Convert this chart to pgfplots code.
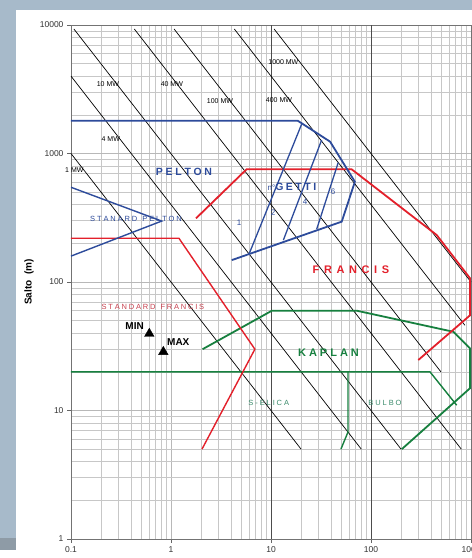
\documentclass[border=0pt]{standalone}
\usepackage{pgfplots}
\pgfplotsset{compat=1.18}
\usepackage{fontspec}
\setmainfont{Liberation Sans}
\definecolor{bgblue}{HTML}{A7BACA}
\definecolor{bggray}{HTML}{8E9BA6}
\definecolor{pblue}{HTML}{2D4B9B}
\definecolor{fred}{HTML}{E3202B}
\definecolor{kgreen}{HTML}{17803F}
\definecolor{lgreen}{HTML}{3C8C6C}
\definecolor{lred}{HTML}{C8404E}
\makeatletter
\newcommand\spaceout[2]{\def\ls@sep{}\@tfor\ls@c:=#2\do{\ls@sep\ls@c\def\ls@sep{\kern#1}}}
\makeatother
\begin{document}
\begin{tikzpicture}[x=1pt,y=1pt]
\useasboundingbox (0,0) rectangle (472,558);
\fill[bgblue] (0,0) rectangle (472,558);
\fill[white] (16,0) rectangle (472,548);
\fill[bggray] (0,8) rectangle (16,20);
\fill[white] (0,0) rectangle (16,8);
\begin{axis}[
  at={(71pt,19pt)}, anchor=south west,
  scale only axis, width=400pt, height=514pt,
  xmode=log, ymode=log,
  xmin=0.1, xmax=1000, ymin=1, ymax=10000,
  xtick={0.1,1,10,100,1000}, xticklabels={0.1,1,10,100,1000},
  ytick={1,10,100,1000,10000}, yticklabels={1,10,100,1000,10000},
  minor xtick={0.2,0.3,0.4,0.5,0.6,0.7,0.8,0.9,2,3,4,5,6,7,8,9,20,30,40,50,60,70,80,90,200,300,400,500,600,700,800,900},
  minor ytick={2,3,4,5,6,7,8,9,20,30,40,50,60,70,80,90,200,300,400,500,600,700,800,900,2000,3000,4000,5000,6000,7000,8000,9000},
  extra x ticks={10,100}, extra x tick labels={},
  extra x tick style={grid=major, major grid style={black!70, line width=0.6pt}, major tick length=0pt},
  grid=both,
  major grid style={black!28, line width=0.5pt},
  minor grid style={black!22, line width=0.45pt},
  axis line style={black!55, line width=0.6pt},
  tick pos=left, tick align=outside,
  major tick length=4pt, minor tick length=0pt,
  tick style={black!60},
  ticklabel style={font=\fontsize{8.5}{10}\selectfont, text=black!80},
  clip=false,
]
% power lines
\addplot[black, line width=0.7pt] coordinates {(0.1,1000) (20,5)};
\addplot[black, line width=0.7pt] coordinates {(0.1,4000) (80,5)};
\addplot[black, line width=0.7pt] coordinates {(0.107,9300) (200,5)};
\addplot[black, line width=0.7pt] coordinates {(0.43,9300) (800,5)};
\addplot[black, line width=0.7pt] coordinates {(1.075,9300) (500,20)};
\addplot[black, line width=0.7pt] coordinates {(4.3,9300) (870,46)};
\addplot[black, line width=0.7pt] coordinates {(10.75,9300) (1000,100)};
% Kaplan
\addplot[kgreen, line width=1.8pt] coordinates {(2.07,30) (10.2,59.8) (72,59.8) (665,41) (977,30.5) (977,14.9) (203,5)};
\addplot[kgreen, line width=1.4pt] coordinates {(0.1,20) (389,20) (719,11)};
\addplot[kgreen, line width=1.4pt] coordinates {(58.9,20) (58.9,6.8) (50,5)};
% Francis
\addplot[fred, line width=1.8pt] coordinates {(1.78,313) (5.7,754) (64,754) (454,232) (977,107) (977,55) (297,24.7)};
\addplot[fred, line width=1.4pt] coordinates {(0.1,219) (1.2,219) (6.9,30) (2.04,5)};
% Pelton
\addplot[pblue, line width=1.8pt] coordinates {(0.1,1800) (18.5,1800) (39,1236) (69,603) (51,295) (4.05,148)};
\addplot[pblue, line width=1.3pt] coordinates {(6.07,167) (20.3,1700)};
\addplot[pblue, line width=1.3pt] coordinates {(13.3,212) (32.1,1274)};
\addplot[pblue, line width=1.3pt] coordinates {(28.6,257) (47,850)};
\addplot[pblue, line width=1.4pt] coordinates {(0.1,546) (0.807,298) (0.1,159)};
% MIN MAX markers
\addplot[only marks, mark=triangle*, mark size=5.5pt, black] coordinates {(0.607,39.6) (0.838,28.6)};
% labels
\node[font=\fontsize{7}{8}\selectfont] at (axis cs:0.234,3475) {10 MW};
\node[font=\fontsize{7}{8}\selectfont] at (axis cs:1.02,3475) {40 MW};
\node[font=\fontsize{7}{8}\selectfont] at (axis cs:3.09,2563) {100 MW};
\node[font=\fontsize{7}{8}\selectfont] at (axis cs:0.25,1297) {4 MW};
\node[font=\fontsize{7}{8}\selectfont] at (axis cs:0.108,744) {1 MW};
\node[font=\fontsize{7}{8}\selectfont] at (axis cs:13.3,5150) {1000 MW};
\node[font=\fontsize{7}{8}\selectfont] at (axis cs:12,2610) {400 MW};
\node[font=\bfseries\fontsize{10.5}{12}\selectfont, text=pblue] at (axis cs:1.35,718) {\spaceout{2.7pt}{PELTON}};
\node[font=\fontsize{10.5}{12}\selectfont, text=pblue] at (axis cs:16.2,548) {{\fontsize{8}{9}\selectfont n°}\textbf{\spaceout{2.5pt}{GETTI}}};
\node[font=\fontsize{8}{9}\selectfont, text=pblue] at (axis cs:4.8,288) {1};
\node[font=\fontsize{8}{9}\selectfont, text=pblue] at (axis cs:10.5,344) {2};
\node[font=\fontsize{8}{9}\selectfont, text=pblue] at (axis cs:21.9,420) {4};
\node[font=\fontsize{8}{9}\selectfont, text=pblue] at (axis cs:41.7,502) {6};
\node[font=\fontsize{7.5}{9}\selectfont, text=pblue] at (axis cs:0.447,309) {\spaceout{1.9pt}{STANARD}\hspace{5pt}\spaceout{1.9pt}{PELTON}};
\node[font=\fontsize{7.5}{9}\selectfont, text=lred] at (axis cs:0.66,64) {\spaceout{1.8pt}{STANDARD}\hspace{5pt}\spaceout{1.8pt}{FRANCIS}};
\node[font=\bfseries\fontsize{11}{12}\selectfont, text=fred] at (axis cs:63,124) {\spaceout{4.6pt}{FRANCIS}};
\node[font=\bfseries\fontsize{11}{12}\selectfont, text=kgreen] at (axis cs:37.6,28) {\spaceout{3pt}{KAPLAN}};
\node[font=\fontsize{7.5}{9}\selectfont, text=lgreen] at (axis cs:9.5,11.4) {\spaceout{1.9pt}{S-ELICA}};
\node[font=\fontsize{7.5}{9}\selectfont, text=lgreen] at (axis cs:138,11.4) {\spaceout{1.9pt}{BULBO}};
\node[font=\bfseries\fontsize{10}{12}\selectfont, anchor=east, inner sep=0pt] at (axis cs:0.537,45.5) {MIN};
\node[font=\bfseries\fontsize{10}{12}\selectfont, anchor=west, inner sep=0pt] at (axis cs:0.912,34.1) {MAX};
\end{axis}
\node[rotate=90, font=\bfseries\fontsize{10}{12}\selectfont] at (29,276) {Salto\ \ (m)};
\end{tikzpicture}
\end{document}
